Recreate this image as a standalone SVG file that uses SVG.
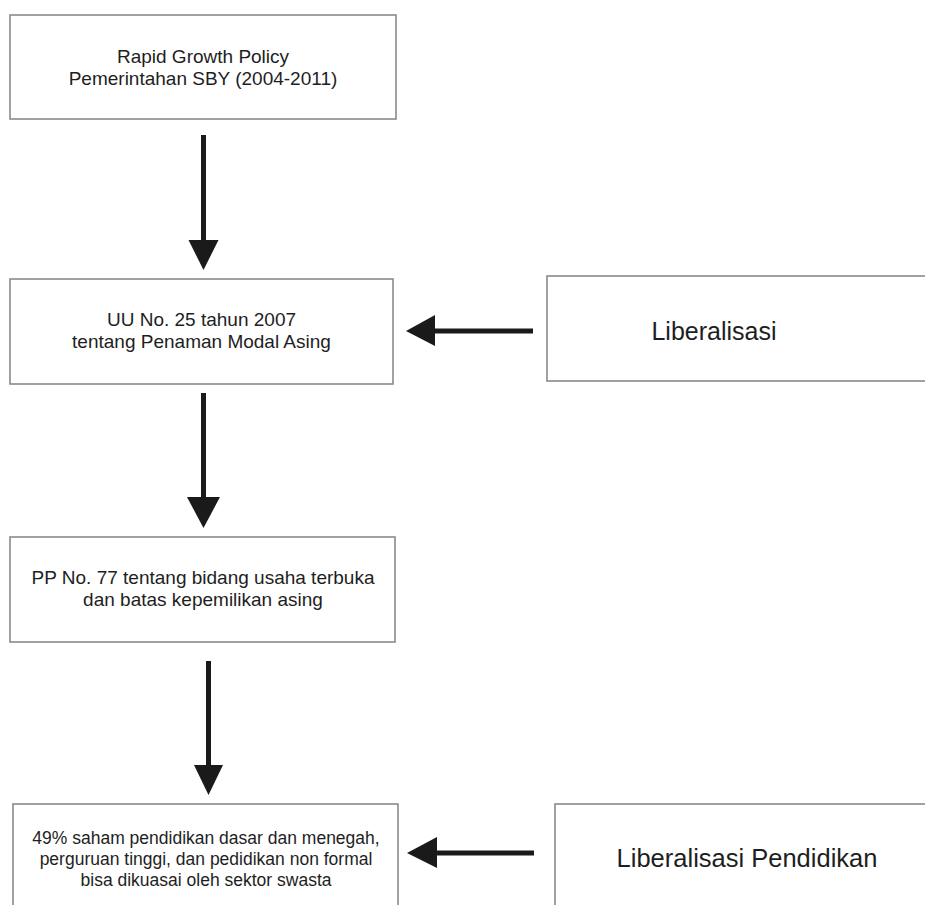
<svg xmlns="http://www.w3.org/2000/svg" width="925" height="905" viewBox="0 0 925 905">
<style>
.box{fill:#fff;stroke:#8a8a8a;stroke-width:1.6}
.t{font-family:"Liberation Sans",Arial,sans-serif;fill:#1e1e1e;text-anchor:middle}
.shaft{stroke:#1a1a1a;stroke-width:5;fill:none}
.head{fill:#1a1a1a}
</style>
<rect width="925" height="905" fill="#fff"/>
<g id="node-rapid">
<rect class="box" x="10" y="15" width="386" height="104"/>
<text class="t" x="203" y="63" font-size="19">Rapid Growth Policy</text>
<text class="t" x="203" y="85" font-size="19">Pemerintahan SBY (2004-2011)</text>
</g>
<g id="node-uu">
<rect class="box" x="10" y="279" width="383" height="105"/>
<text class="t" x="201.5" y="326" font-size="19">UU No. 25 tahun 2007</text>
<text class="t" x="201.5" y="348" font-size="19">tentang Penaman Modal Asing</text>
</g>
<g id="node-liberalisasi">
<rect class="box" x="547" y="276" width="390" height="105"/>
<text class="t" x="714" y="340" font-size="25">Liberalisasi</text>
</g>
<g id="node-pp">
<rect class="box" x="10" y="537" width="385" height="105"/>
<text class="t" x="203" y="584" font-size="19">PP No. 77 tentang bidang usaha terbuka</text>
<text class="t" x="203" y="606" font-size="19">dan batas kepemilikan asing</text>
</g>
<g id="node-saham">
<rect class="box" x="13" y="804" width="385" height="120"/>
<text class="t" x="206" y="844" font-size="17.5">49% saham pendidikan dasar dan menegah,</text>
<text class="t" x="206" y="865" font-size="17.5">perguruan tinggi, dan pedidikan non formal</text>
<text class="t" x="206" y="886" font-size="17.5">bisa dikuasai oleh sektor swasta</text>
</g>
<g id="node-libpendidikan">
<rect class="box" x="555" y="804" width="390" height="120"/>
<text class="t" x="747" y="867" font-size="25.5">Liberalisasi Pendidikan</text>
</g>
<g id="connectors">
<line class="shaft" x1="203.5" y1="135" x2="203.5" y2="242"/>
<polygon class="head" points="188.5,240 218.5,240 203.5,270"/>
<line class="shaft" x1="203.5" y1="393" x2="203.5" y2="499"/>
<polygon class="head" points="187,497 220,497 203.5,528"/>
<line class="shaft" x1="208.5" y1="661" x2="208.5" y2="767"/>
<polygon class="head" points="194,765 223,765 208.5,795"/>
<line class="shaft" x1="533" y1="331" x2="433" y2="331"/>
<polygon class="head" points="435,315 435,346 406,331"/>
<line class="shaft" x1="534" y1="853" x2="435" y2="853"/>
<polygon class="head" points="437,837 437,868 407,853"/>
</g>
</svg>
